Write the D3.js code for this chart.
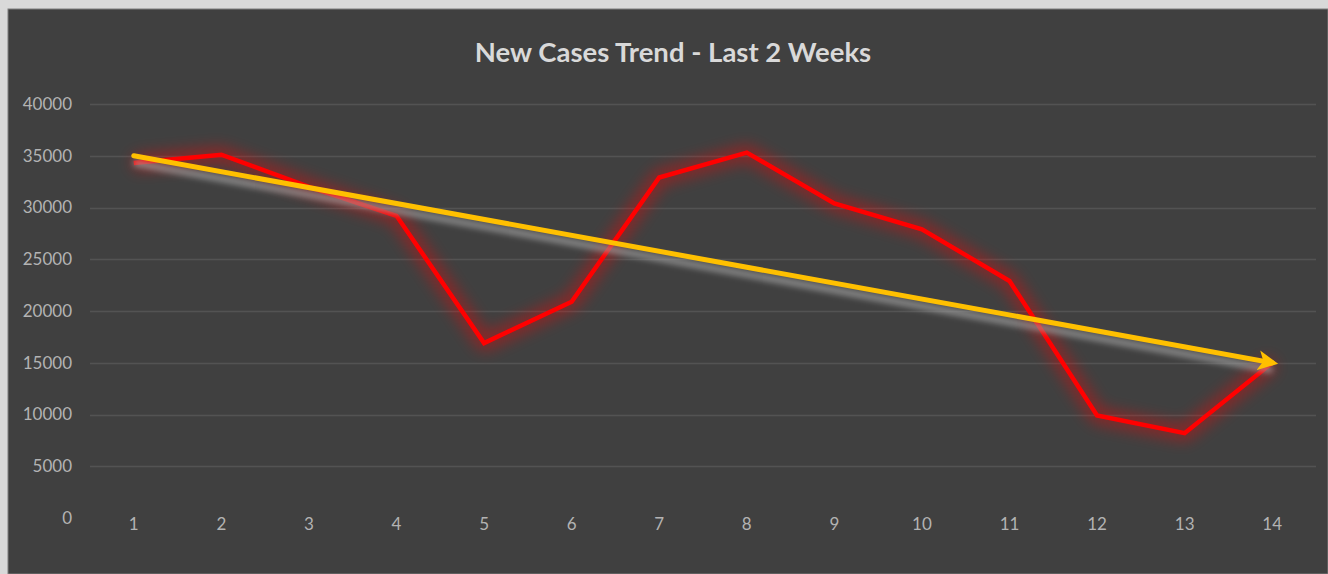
<!DOCTYPE html>
<html>
<head>
<meta charset="utf-8">
<script src="https://cdn.jsdelivr.net/npm/d3@7"></script>
<style>
  body { margin: 0; background: #d9d9d9; }
  svg { display: block; }
</style>
</head>
<body>
<div id="chart"></div>
<script>
// chart data
var days = [1, 2, 3, 4, 5, 6, 7, 8, 9, 10, 11, 12, 13, 14];
var newCases = [34300, 35100, 32000, 29200, 16900, 20900, 32900, 35300, 30400, 27900, 22900, 9900, 8200, 15000];
var trendDays = [1, 14];
var trendValues = [35000, 15000];
var yTicks = [0, 5000, 10000, 15000, 20000, 25000, 30000, 35000, 40000];
var title = "New Cases Trend - Last 2 Weeks";

var W = 1328, H = 574;
var margin = {top: 104, right: 12, bottom: 54, left: 90};

var svg = d3.select("#chart").append("svg")
    .attr("width", W)
    .attr("height", H);

var defs = svg.append("defs");

// red glow
var glow = defs.append("filter").attr("id", "glow")
    .attr("x", "-10%").attr("y", "-20%").attr("width", "120%").attr("height", "140%");
glow.append("feGaussianBlur").attr("in", "SourceGraphic").attr("stdDeviation", 8).attr("result", "b");
glow.append("feComponentTransfer").attr("in", "b")
  .append("feFuncA").attr("type", "linear").attr("slope", 0.45);

// grey shadow under the trend arrow
var shadow = defs.append("filter").attr("id", "shadow")
    .attr("x", "-10%").attr("y", "-30%").attr("width", "120%").attr("height", "160%");
shadow.append("feGaussianBlur").attr("in", "SourceGraphic").attr("stdDeviation", 3);

defs.append("marker")
    .attr("id", "arrow")
    .attr("viewBox", "0 0 10 10")
    .attr("refX", 7).attr("refY", 5)
    .attr("markerWidth", 4).attr("markerHeight", 4)
    .attr("markerUnits", "strokeWidth")
    .attr("orient", "auto")
  .append("path")
    .attr("d", "M0,0 L10,5 L0,10 L2.5,5 Z")
    .attr("fill", "#ffc000");

// outer frame and chart background
svg.append("rect")
    .attr("x", 8).attr("y", 9)
    .attr("width", W - 8).attr("height", H - 9)
    .attr("fill", "#404040")
    .attr("stroke", "#7f7f7f")
    .attr("stroke-width", 1);

var width = W - margin.left - margin.right,
    height = H - margin.top - margin.bottom;

var g = svg.append("g")
    .attr("transform", "translate(" + margin.left + "," + margin.top + ")");

var x = d3.scaleBand()
    .domain(days)
    .range([0, width]);
var cx = function(d) { return x(d) + x.bandwidth() / 2; };

var y = d3.scaleLinear()
    .domain([0, 40000])
    .range([height - 2, 0]);

// gridlines
g.append("g")
  .selectAll("line")
  .data(yTicks.filter(function(d) { return d > 0; }))
  .enter().append("line")
    .attr("x1", 0).attr("x2", width)
    .attr("y1", function(d) { return Math.round(y(d)) + 0.5; })
    .attr("y2", function(d) { return Math.round(y(d)) + 0.5; })
    .attr("stroke", "#535353")
    .attr("stroke-width", 1.6);

// y axis labels
var yAxis = g.append("g")
    .call(d3.axisLeft(y).tickValues(yTicks).tickSize(0).tickPadding(18).tickFormat(d3.format("d")));
yAxis.select(".domain").remove();
yAxis.selectAll("text")
    .attr("fill", "#b3b3b3")
    .style("font-family", "Lato, 'Open Sans', sans-serif")
    .style("font-size", "17px");

// x axis labels
var xAxis = g.append("g")
    .attr("transform", "translate(0," + (height - 8) + ")")
    .call(d3.axisBottom(x).tickSize(0).tickPadding(6));
xAxis.select(".domain").remove();
xAxis.selectAll("text")
    .attr("fill", "#b3b3b3")
    .style("font-family", "Lato, 'Open Sans', sans-serif")
    .style("font-size", "17px");

// red line with glow
var line = d3.line()
    .x(function(d, i) { return cx(days[i]); })
    .y(function(d) { return y(d); });

g.append("path")
    .datum(newCases)
    .attr("d", line)
    .attr("fill", "none")
    .attr("stroke", "#ff0000")
    .attr("stroke-width", 14)
    .attr("stroke-linejoin", "round")
    .attr("filter", "url(#glow)");

g.append("path")
    .datum(newCases)
    .attr("d", line)
    .attr("fill", "none")
    .attr("stroke", "#ff0000")
    .attr("stroke-width", 4.5)
    .attr("stroke-linejoin", "miter");

// trend arrow
var trend = d3.line()
    .x(function(d, i) { return cx(trendDays[i]); })
    .y(function(d) { return y(d); });

g.append("path")
    .datum(trendValues)
    .attr("d", trend)
    .attr("transform", "translate(0,7)")
    .attr("fill", "none")
    .attr("stroke", "#a0a0a0")
    .attr("stroke-width", 6)
    .attr("stroke-opacity", 0.85)
    .attr("filter", "url(#shadow)");

g.append("path")
    .datum(trendValues)
    .attr("d", trend)
    .attr("fill", "none")
    .attr("stroke", "#ffc000")
    .attr("stroke-width", 5)
    .attr("stroke-linecap", "round")
    .attr("marker-end", "url(#arrow)");

// title
svg.append("text")
    .attr("x", 673)
    .attr("y", 62)
    .attr("text-anchor", "middle")
    .attr("fill", "#d9d9d9")
    .style("font-family", "Lato, sans-serif")
    .style("font-weight", "bold")
    .style("font-size", "27.5px")
    .text(title);
</script>
</body>
</html>
